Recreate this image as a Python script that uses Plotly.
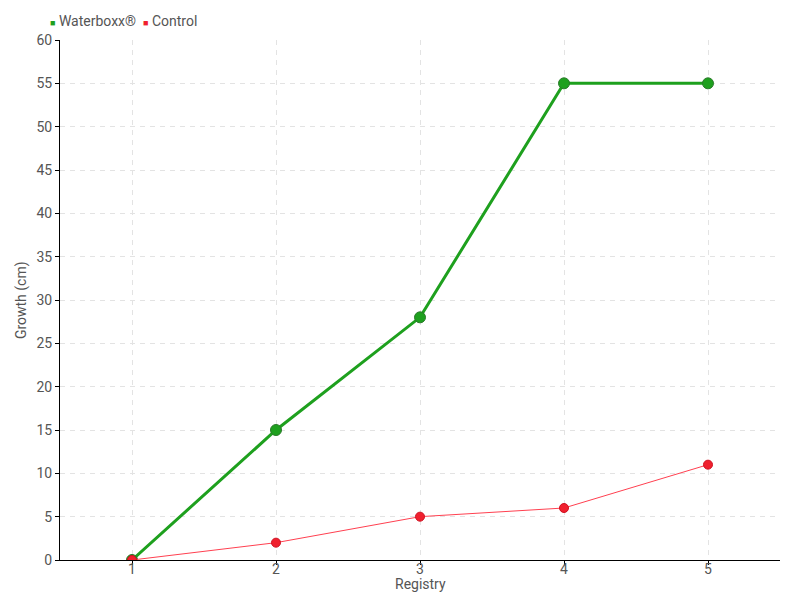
import plotly.graph_objects as go

registry = [1, 2, 3, 4, 5]
waterboxx = [0, 15, 28, 55, 55]
control = [0, 2, 5, 6, 11]
series_names = ['Waterboxx®', 'Control']

GREEN = '#1ea01e'
RED = '#f0202e'
TEXT = '#555'
GRID = '#e3e3e3'
FONT = 'Roboto, sans-serif'

fig = go.Figure()
fig.add_trace(go.Scatter(x=registry, y=waterboxx, mode='lines+markers', name=series_names[0],
                         line=dict(color=GREEN, width=3),
                         marker=dict(color=GREEN, size=11, line=dict(color='#2a7a2a', width=1))))
fig.add_trace(go.Scatter(x=registry, y=control, mode='lines+markers', name=series_names[1],
                         line=dict(color='#ff4050', width=1),
                         marker=dict(color=RED, size=9, line=dict(color='#d01020', width=1))))

# compact legend drawn as text, like the original
legend_text = (f'<span style="color:{GREEN};font-size:9px">■</span> {series_names[0]}  '
               f'<span style="color:{RED};font-size:9px">■</span> {series_names[1]}')
fig.add_annotation(text=legend_text, xref='paper', yref='paper', x=-0.017, y=1.0,
                   xanchor='left', yanchor='bottom', yshift=9, showarrow=False,
                   font=dict(size=14, color=TEXT))
# axis titles placed as annotations so they sit where the original has them
fig.add_annotation(text='Registry', xref='paper', yref='paper', x=0.5, y=-0.046,
                   xanchor='center', yanchor='middle', showarrow=False,
                   font=dict(size=14, color=TEXT))
fig.add_annotation(text='Growth (cm)', xref='paper', yref='paper', x=-0.054, y=0.5,
                   xanchor='center', yanchor='middle', textangle=-90, showarrow=False,
                   font=dict(size=14, color=TEXT))

# the page body adds an 8px offset, so the figure is sized to fit inside it
fig.update_layout(
    width=792, height=592, showlegend=False,
    paper_bgcolor='white', plot_bgcolor='white',
    margin=dict(l=52, r=20, t=32, b=40),
    font=dict(family=FONT, size=14, color=TEXT),
    xaxis=dict(range=[0.5, 5.5], tickvals=registry, showline=True, linecolor='black',
               linewidth=1, showgrid=True, gridcolor=GRID, griddash='5px,5px',
               zeroline=False, ticks='outside', ticklen=4, tickcolor='black',
               ticklabelstandoff=-8, automargin=False),
    yaxis=dict(range=[0, 60], dtick=5, showline=True, linecolor='black', linewidth=1,
               showgrid=True, gridcolor=GRID, griddash='5px,5px', zeroline=False,
               ticks='outside', ticklen=4, tickcolor='black', automargin=False),
)

fig.write_html('out.html')
